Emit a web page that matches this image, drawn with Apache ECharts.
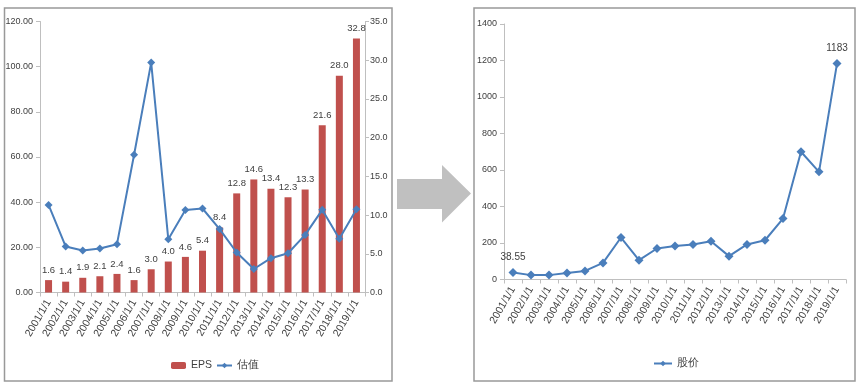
<!DOCTYPE html>
<html>
<head>
<meta charset="utf-8">
<script src="https://cdn.jsdelivr.net/npm/echarts@6/dist/echarts.min.js"></script>
<style>html,body{margin:0;padding:0;background:#fff}#c{width:860px;height:388px}</style>
</head>
<body>
<div id="c"></div>
<script>
const categories = ['2001/1/1','2002/1/1','2003/1/1','2004/1/1','2005/1/1','2006/1/1','2007/1/1','2008/1/1','2009/1/1','2010/1/1','2011/1/1','2012/1/1','2013/1/1','2014/1/1','2015/1/1','2016/1/1','2017/1/1','2018/1/1','2019/1/1'];
const eps = [1.6,1.4,1.9,2.1,2.4,1.6,3.0,4.0,4.6,5.4,8.4,12.8,14.6,13.4,12.3,13.3,21.6,28.0,32.8];
const valuation = [38.8,20.4,18.6,19.5,21.4,61.0,101.8,23.6,36.5,37.2,28.1,17.7,10.4,15.2,17.4,25.5,36.6,23.8,36.9];
const price = [38.55,24,24,36,47,91,230,106,170,183,192,210,128,192,215,334,700,590,1183];
const priceLabeled = [0, 18];
const leftTicks = {min:0, max:120, interval:20};
const rightTicks = {min:0, max:35, interval:5};
const priceTicks = {min:0, max:1400, interval:200};

const FONT = "'Liberation Sans',Arial,sans-serif";
const TXT = '#404040';
const AX = '#bfbfbf';
const BLUE = '#4a7ebb';
const RED = '#c0504d';
const FS = 9;

const chart = echarts.init(document.getElementById('c'));
const axisCommon = {
  axisLine:{show:true,lineStyle:{color:AX,width:1}},
  axisTick:{show:true,length:4,lineStyle:{color:AX}},
  splitLine:{show:false},
  axisLabel:{color:TXT,fontSize:FS,fontFamily:FONT,margin:6}
};
const xCommon = (gi) => ({
  type:'category', gridIndex:gi, data:categories, boundaryGap:true,
  axisLine:{show:true,lineStyle:{color:AX,width:1}},
  axisTick:{show:true,alignWithLabel:false,interval:0,length:4,lineStyle:{color:AX}},
  axisLabel:{interval:0,rotate:60,color:TXT,fontSize:10.5,fontFamily:FONT,margin:8},
  splitLine:{show:false}
});

chart.setOption({
  animation:false,
  textStyle:{fontFamily:FONT},
  graphic:[
    {type:'rect',shape:{x:4.5,y:8,width:387.5,height:373},style:{fill:'none',stroke:'#999',lineWidth:1.5}},
    {type:'rect',shape:{x:474,y:8,width:381,height:373},style:{fill:'none',stroke:'#999',lineWidth:1.5}},
    {type:'polygon',shape:{points:[[397,179],[442,179],[442,165],[471,193.5],[442,222.5],[442,209],[397,209]]},style:{fill:'#c0c0c0'}}
  ],
  grid:[
    {left:40,right:495,top:21.5,bottom:95.5},
    {left:504,right:14,top:24,bottom:108.5}
  ],
  legend:[
    {data:['EPS','估值'],left:166,top:355,itemWidth:15,itemHeight:7,itemGap:4,
     textStyle:{color:TXT,fontSize:10.5,fontFamily:FONT}},
    {data:['股价'],left:648,top:353,itemWidth:18,itemHeight:7,itemGap:4,
     textStyle:{color:TXT,fontSize:10.5,fontFamily:FONT}}
  ],
  xAxis:[xCommon(0), xCommon(1)],
  yAxis:[
    Object.assign({type:'value',gridIndex:0,position:'left'},leftTicks,axisCommon,
      {axisLabel:Object.assign({},axisCommon.axisLabel,{margin:7,formatter:v=>v.toFixed(2)})}),
    Object.assign({type:'value',gridIndex:0,position:'right'},rightTicks,axisCommon,
      {axisLabel:Object.assign({},axisCommon.axisLabel,{margin:5,formatter:v=>v.toFixed(1)})}),
    Object.assign({type:'value',gridIndex:1,position:'left'},priceTicks,axisCommon,
      {axisLabel:Object.assign({},axisCommon.axisLabel,{margin:7,formatter:v=>String(v)})})
  ],
  series:[
    {name:'EPS',type:'bar',xAxisIndex:0,yAxisIndex:1,data:eps,barWidth:7,z:1,
     itemStyle:{color:RED},
     label:{show:true,position:'top',distance:5,color:TXT,fontSize:9.5,fontFamily:FONT,formatter:p=>p.value.toFixed(1)}},
    {name:'估值',type:'line',xAxisIndex:0,yAxisIndex:0,data:valuation,z:3,
     symbol:'diamond',symbolSize:8,lineStyle:{color:BLUE,width:2},itemStyle:{color:BLUE}},
    {name:'股价',type:'line',xAxisIndex:1,yAxisIndex:2,z:3,
     data:price.map((v,i)=>priceLabeled.includes(i)?{value:v,label:{show:true}}:v),
     symbol:'diamond',symbolSize:9,lineStyle:{color:BLUE,width:2},itemStyle:{color:BLUE},
     label:{show:false,position:'top',distance:6,color:TXT,fontSize:10,fontFamily:FONT}}
  ]
});
</script>
</body>
</html>
